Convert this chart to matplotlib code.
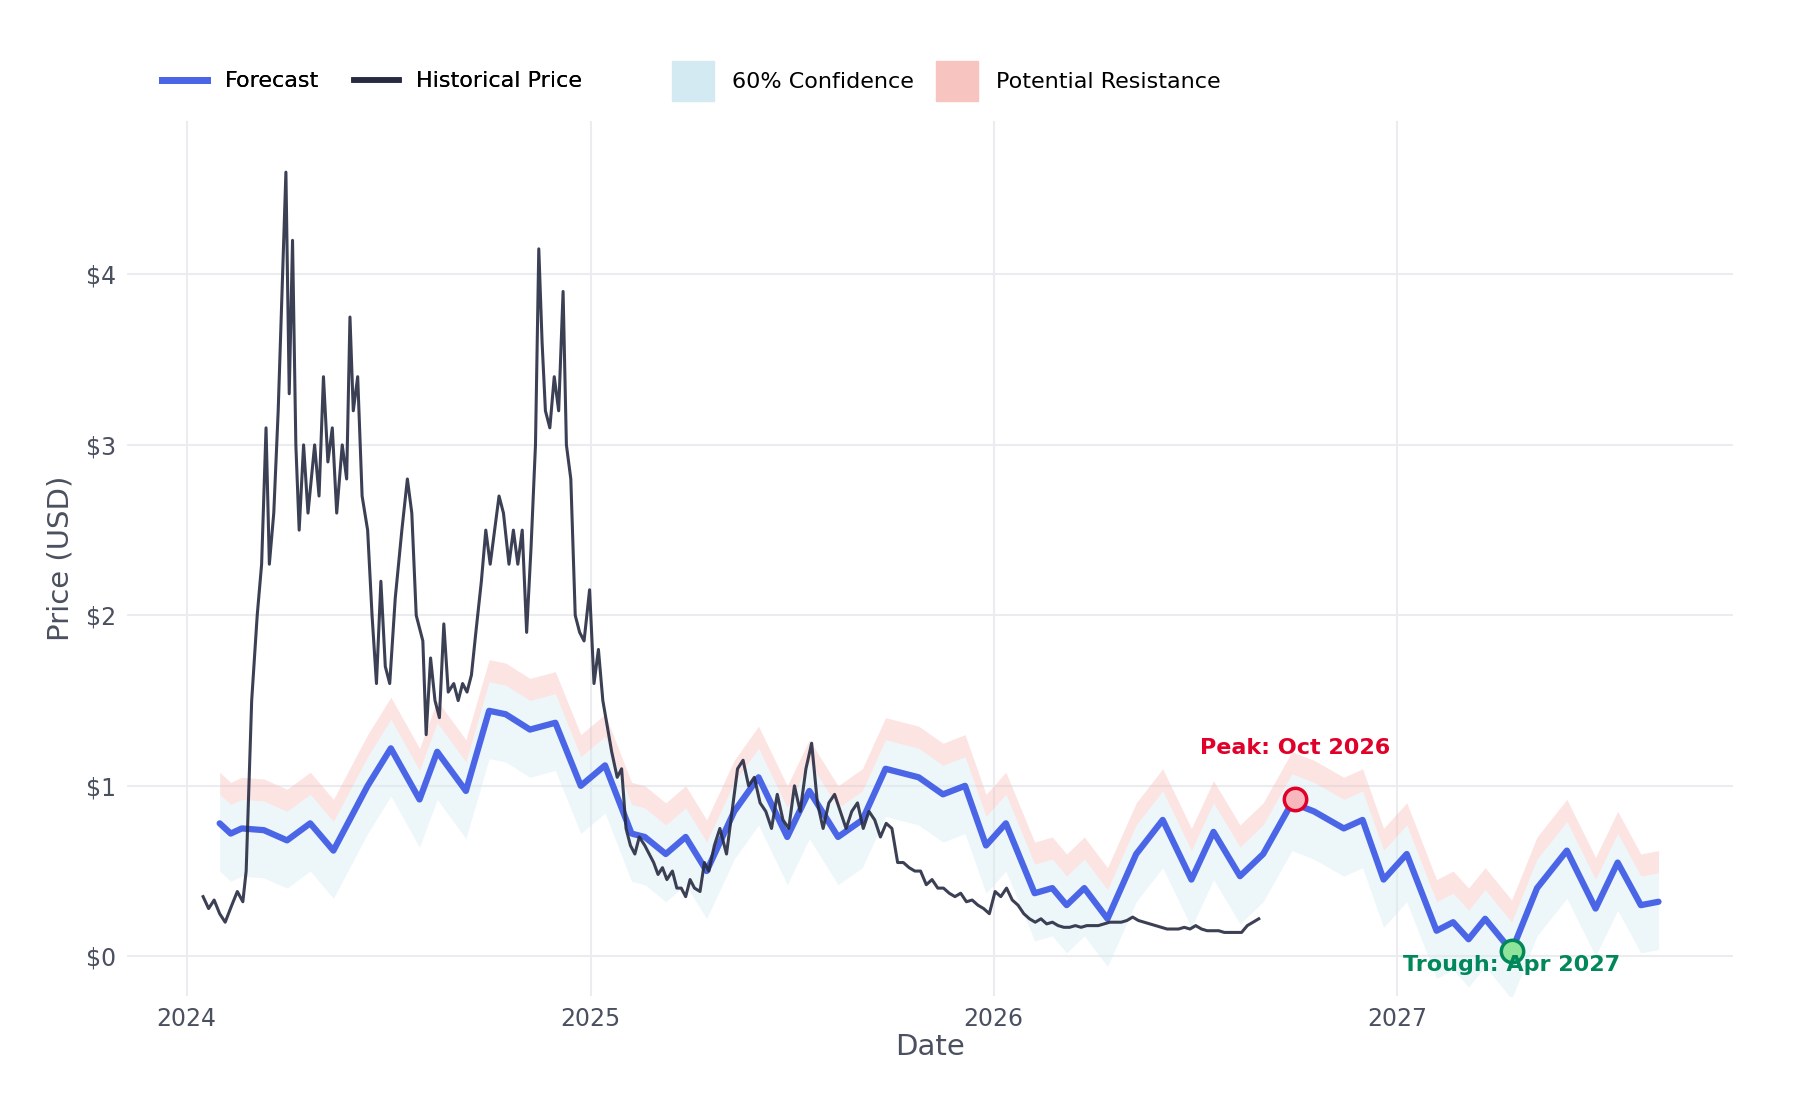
import numpy as np
import pandas as pd
import matplotlib
matplotlib.use("Agg")
import matplotlib.pyplot as plt
import matplotlib.patches as mpatches
from matplotlib.lines import Line2D
import matplotlib.dates as mdates

# forecast (smoothed) values
fc_dates = ["2024-01-31", "2024-02-10", "2024-02-20", "2024-03-11", "2024-04-01", "2024-04-22",
            "2024-05-13", "2024-06-13", "2024-07-04", "2024-07-30", "2024-08-15", "2024-09-10",
            "2024-10-01", "2024-10-16", "2024-11-07", "2024-11-30", "2024-12-23", "2025-01-14",
            "2025-02-07", "2025-02-19", "2025-03-10", "2025-03-28", "2025-04-16", "2025-05-11",
            "2025-06-02", "2025-06-28", "2025-07-18", "2025-08-13", "2025-09-04", "2025-09-25",
            "2025-10-25", "2025-11-16", "2025-12-06", "2025-12-25", "2026-01-12", "2026-02-07",
            "2026-02-23", "2026-03-08", "2026-03-24", "2026-04-14", "2026-05-10", "2026-06-03",
            "2026-06-29", "2026-07-19", "2026-08-12", "2026-09-02", "2026-09-28", "2026-10-18",
            "2026-11-14", "2026-12-01", "2026-12-20", "2027-01-10", "2027-02-06", "2027-02-21",
            "2027-03-07", "2027-03-22", "2027-04-15", "2027-05-08", "2027-06-04", "2027-06-30",
            "2027-07-20", "2027-08-10", "2027-08-26"]
fc_vals = [0.78, 0.72, 0.75, 0.74, 0.68, 0.78,
           0.62, 1.00, 1.22, 0.92, 1.20, 0.97,
           1.44, 1.42, 1.33, 1.37, 1.00, 1.12,
           0.72, 0.70, 0.60, 0.70, 0.50, 0.85,
           1.05, 0.70, 0.97, 0.70, 0.80, 1.10,
           1.05, 0.95, 1.00, 0.65, 0.78, 0.37,
           0.40, 0.30, 0.40, 0.22, 0.60, 0.80,
           0.45, 0.73, 0.47, 0.60, 0.90, 0.85,
           0.75, 0.80, 0.45, 0.60, 0.15, 0.20,
           0.10, 0.22, 0.03, 0.40, 0.62, 0.28,
           0.55, 0.30, 0.32]
conf_low = -0.28
conf_high = 0.17
resist_high = 0.30

# historical price, early part (days since 2024-01-01)
hist_early_days = [15, 20, 25, 30, 35, 41, 46, 51, 54, 59, 64, 68, 72, 75, 79, 83, 86, 90, 93, 96,
                   99, 102, 106, 110, 116, 120, 124, 128, 132, 136, 141, 145, 148, 151, 155, 159,
                   164, 168, 172, 176, 180, 184, 189, 195, 200, 204, 208, 214, 217, 221, 225, 229,
                   233, 237, 242, 246, 250, 254, 258, 262, 267, 271, 275, 279, 283, 287, 292, 296,
                   300, 304, 308, 312, 316, 319, 322, 325, 329, 333, 337, 341, 344, 348, 352, 356,
                   360, 365, 369, 373, 377, 381, 385, 390, 394, 398, 402, 406, 410, 415, 419, 423,
                   427, 431, 435, 440, 444, 448, 452, 456, 460, 465, 469, 473, 478, 483, 489, 495,
                   499, 504]
hist_early_vals = [0.35, 0.28, 0.33, 0.25, 0.20, 0.30, 0.38, 0.32, 0.50, 1.50, 2.00, 2.30, 3.10, 2.30,
                   2.60, 3.20, 3.80, 4.60, 3.30, 4.20, 3.00, 2.50, 3.00, 2.60, 3.00, 2.70, 3.40, 2.90,
                   3.10, 2.60, 3.00, 2.80, 3.75, 3.20, 3.40, 2.70, 2.50, 2.00, 1.60, 2.20, 1.70, 1.60,
                   2.10, 2.50, 2.80, 2.60, 2.00, 1.85, 1.30, 1.75, 1.50, 1.40, 1.95, 1.55, 1.60, 1.50,
                   1.60, 1.55, 1.65, 1.90, 2.20, 2.50, 2.30, 2.50, 2.70, 2.60, 2.30, 2.50, 2.30, 2.50,
                   1.90, 2.40, 3.00, 4.15, 3.60, 3.20, 3.10, 3.40, 3.20, 3.90, 3.00, 2.80, 2.00, 1.90,
                   1.85, 2.15, 1.60, 1.80, 1.50, 1.35, 1.20, 1.05, 1.10, 0.75, 0.65, 0.60, 0.70, 0.65,
                   0.60, 0.55, 0.48, 0.52, 0.45, 0.50, 0.40, 0.40, 0.35, 0.45, 0.40, 0.38, 0.55, 0.50,
                   0.65, 0.75, 0.60, 0.90, 1.10, 1.15]
# later part, evenly sampled
hist_late_start, hist_late_end = 509, 971
hist_late_vals = [1.00, 1.05, 0.90, 0.85, 0.75, 0.95, 0.80, 0.75,
                  1.00, 0.85, 1.10, 1.25, 0.90, 0.75, 0.90, 0.95, 0.85, 0.75, 0.85, 0.90, 0.75, 0.85,
                  0.80, 0.70, 0.78, 0.75, 0.55, 0.55, 0.52, 0.50, 0.50, 0.42, 0.45, 0.40, 0.40, 0.37,
                  0.35, 0.37, 0.32, 0.33, 0.30, 0.28, 0.25, 0.38, 0.35, 0.40, 0.33, 0.30, 0.25, 0.22,
                  0.20, 0.22, 0.19, 0.20, 0.18, 0.17, 0.17, 0.18, 0.17, 0.18, 0.18, 0.18, 0.19, 0.20,
                  0.20, 0.20, 0.21, 0.23, 0.21, 0.20, 0.19, 0.18, 0.17, 0.16, 0.16, 0.16, 0.17, 0.16,
                  0.18, 0.16, 0.15, 0.15, 0.15, 0.14, 0.14, 0.14, 0.14, 0.18, 0.20, 0.22]

peak_date, peak_val = "2026-10-01", 0.92
trough_date, trough_val = "2027-04-15", 0.03

base = pd.Timestamp("2024-01-01")
fc_x = pd.to_datetime(fc_dates)
fc = np.array(fc_vals)
late_days = np.linspace(hist_late_start, hist_late_end, len(hist_late_vals))
hist_x = base + pd.to_timedelta(np.concatenate([hist_early_days, late_days]), unit="D")
hist_y = hist_early_vals + hist_late_vals

c_fc = "#4a65e6"
c_hist = "#272b42"
c_conf = "#d3eaf2"
c_res = "#f8c4c0"
grid_c = "#ebecf0"
txt_c = "#4b5060"

plt.rcParams['font.family'] = ['DejaVu Sans']
fig = plt.figure(figsize=(18, 11), dpi=100)
ax = fig.add_axes([0.0705, 0.095, 0.892, 0.795])

ax.fill_between(fc_x, fc + conf_high, fc + resist_high, color=c_res, alpha=0.45, lw=0)
ax.fill_between(fc_x, fc + conf_low, fc + conf_high, color=c_conf, alpha=0.4, lw=0)
ax.plot(fc_x, fc, color=c_fc, lw=4.5, solid_capstyle='round', solid_joinstyle='round', zorder=3)
ax.plot(hist_x, hist_y, color=c_hist, lw=2.2, alpha=0.9, zorder=4)

ax.scatter([pd.Timestamp(peak_date)], [peak_val], s=260, facecolor="#f7b8bd", edgecolor="#e0002a", lw=2.5, zorder=6)
ax.annotate("Peak: Oct 2026", (pd.Timestamp(peak_date), peak_val), xytext=(0, 30), textcoords="offset points",
            ha="center", va="bottom", color="#e0002a", fontsize=16, fontweight="bold")
ax.scatter([pd.Timestamp(trough_date)], [trough_val], s=260, facecolor="#8fe39a", edgecolor="#00875a", lw=2.5, zorder=6)
ax.annotate("Trough: Apr 2027", (pd.Timestamp(trough_date), trough_val), xytext=(0, -3), textcoords="offset points",
            ha="center", va="top", color="#00875a", fontsize=16, fontweight="bold", zorder=7)

ax.set_xlim(pd.Timestamp("2023-11-08"), pd.Timestamp("2027-11-01"))
ax.set_ylim(-0.23, 4.9)
ax.set_yticks([0, 1, 2, 3, 4])
ax.set_yticklabels(["$0", "$1", "$2", "$3", "$4"])
ax.xaxis.set_major_locator(mdates.YearLocator())
ax.xaxis.set_major_formatter(mdates.DateFormatter("%Y"))
ax.grid(True, color=grid_c, lw=1.5)
ax.set_axisbelow(True)
for s in ax.spines.values():
    s.set_visible(False)
ax.tick_params(length=0, labelsize=17, colors=txt_c, pad=8)
ax.set_xlabel("Date", fontsize=21, color=txt_c, labelpad=2)
ax.set_ylabel("Price (USD)", fontsize=21, color=txt_c, labelpad=8)

line_handles = [Line2D([], [], color=c_fc, lw=5), Line2D([], [], color=c_hist, lw=4)]
leg1 = fig.legend(line_handles, ["Forecast", "Historical Price"], loc="center left",
                  bbox_to_anchor=(0.079, 0.926), ncol=2, frameon=False, fontsize=16,
                  handlelength=2.0, columnspacing=1.6)
patch_handles = [mpatches.Patch(color=c_conf), mpatches.Patch(color=c_res)]
fig.legend(patch_handles, ["60% Confidence", "Potential Resistance"], loc="center left",
           bbox_to_anchor=(0.362, 0.926), ncol=2, frameon=False, fontsize=16,
           handlelength=1.9, handleheight=2.4, columnspacing=1.0)
fig.add_artist(leg1)

fig.savefig("out.png", dpi=100, facecolor="white")
